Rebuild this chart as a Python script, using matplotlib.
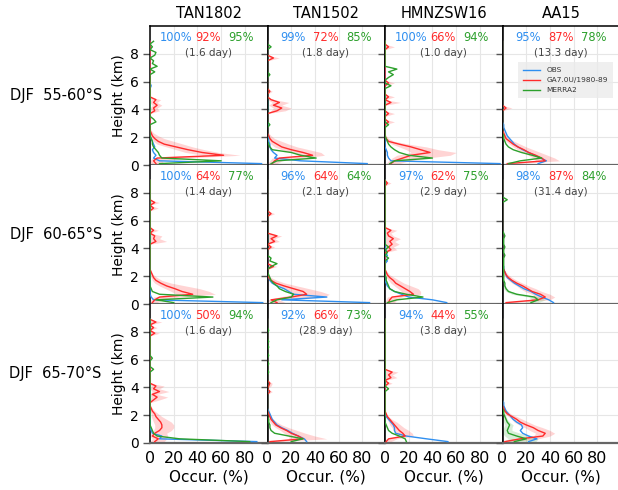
import numpy as np
import matplotlib
matplotlib.use("Agg")
import matplotlib.pyplot as plt

# vertical levels (km)
heights = np.round(np.arange(0.1, 9.0, 0.2), 2)  # 45 levels

stations = ["TAN1802", "TAN1502", "HMNZSW16", "AA15"]
row_labels = ["DJF  55-60°S", "DJF  60-65°S", "DJF  65-70°S"]
x_ticks = [0, 20, 40, 60, 80]
y_ticks = [0, 2, 4, 6, 8]
series_names = ["OBS", "GA7.0U/1980-89", "MERRA2"]

# percentages (OBS, GA7, MERRA2) and sample length per panel
pct_r0 = [(100, 92, 95), (99, 72, 85), (100, 66, 94), (95, 87, 78)]
pct_r1 = [(100, 64, 77), (96, 64, 64), (97, 62, 75), (98, 87, 84)]
pct_r2 = [(100, 50, 94), (92, 66, 73), (94, 44, 55), None]
days_r0 = ["1.6", "1.8", "1.0", "13.3"]
days_r1 = ["1.4", "2.1", "2.9", "31.4"]
days_r2 = ["1.6", "28.9", "3.8", None]

# ---------------- row 0 : 55-60S ----------------
obs_a = [94,8,3,5,3,2,4,3,2,1,0,0,0,0,0,
         0,0,0,0,0,0,0,0,0,0,0,0,0,1,0,
         0,0,0,0,0,0,0,0,0,0,0,0,0,0,0]
ga_a = [5,3,6,62,44,32,22,12,7,4,2,1,0,0,0,
        0,0,0,0,4,3,6,3,5,0,0,0,0,0,0,
        0,0,0,0,0,0,0,0,0,0,0,0,0,0,0]
galo_a = [1,0,2,45,30,22,14,6,3,1,0,0,0,0,0,
          0,0,0,0,1,0,2,0,1,0,0,0,0,0,0,
          0,0,0,0,0,0,0,0,0,0,0,0,0,0,0]
gahi_a = [12,10,30,76,58,46,36,28,20,12,7,3,1,0,0,
          0,0,0,0,8,6,10,6,9,0,0,0,0,0,0,
          0,0,0,0,0,0,0,0,0,0,0,0,0,0,0]
mer_a = [8,60,10,8,7,5,3,2,2,1,0,0,0,0,0,
         5,3,0,0,0,0,0,0,0,0,0,0,0,0,0,
         0,0,0,4,0,6,2,3,0,4,5,0,2,0,3]

obs_b = [84,28,6,8,5,3,2,2,1,1,1,0,0,0,1,
         0,0,0,0,0,0,0,0,0,0,0,0,0,0,0,
         0,0,0,0,0,0,0,0,0,0,0,0,0,0,0]
ga_b = [4,6,10,38,30,20,12,8,4,2,1,0,0,0,0,
        0,0,0,0,8,12,5,10,3,0,0,2,0,0,0,
        0,0,0,0,0,0,0,0,5,0,0,0,0,0,0]
galo_b = [0,2,4,28,20,12,6,3,1,0,0,0,0,0,0,
          0,0,0,0,3,5,1,4,0,0,0,0,0,0,0,
          0,0,0,0,0,0,0,0,2,0,0,0,0,0,0]
gahi_b = [8,12,30,48,45,35,25,18,12,6,3,1,0,0,0,
          0,0,0,0,15,20,12,18,6,0,0,4,0,0,0,
          0,0,0,0,0,0,0,0,10,0,0,0,0,0,0]
mer_b = [3,8,41,28,20,4,2,1,0,0,0,0,0,0,2,
         0,0,0,0,0,0,0,0,0,0,0,0,0,0,0,
         0,0,2,0,0,0,0,0,0,0,0,0,3,0,0]

obs_c = [97,5,3,2,2,1,0,0,0,0,0,0,0,0,0,
         0,0,0,0,0,0,0,0,0,0,0,0,0,0,0,
         0,0,0,0,0,0,0,0,0,0,0,0,0,0,0]
ga_c = [5,8,15,22,38,30,22,12,3,1,0,0,0,0,0,
        3,0,0,3,0,0,0,5,0,3,0,0,0,0,3,
        0,0,0,0,0,0,0,0,0,0,0,0,3,0,0]
galo_c = [1,3,6,10,22,18,12,6,1,0,0,0,0,0,0,
          0,0,0,0,0,0,0,0,0,0,0,0,0,0,0,
          0,0,0,0,0,0,0,0,0,0,0,0,0,0,0]
gahi_c = [12,20,35,55,60,45,35,20,8,3,1,0,0,0,0,
          8,0,0,8,0,0,0,13,0,8,0,0,0,0,8,
          0,0,0,0,0,0,0,0,0,0,0,0,8,0,0]
mer_c = [4,8,40,20,12,8,5,3,2,1,0,0,0,0,3,
         0,0,0,0,0,0,0,0,0,0,0,0,0,5,0,
         0,3,7,3,10,0,0,0,0,0,0,0,0,0,0]

obs_d = [30,37,32,27,22,17,13,10,8,6,4,3,2,1,1,
         0,0,0,0,0,0,0,0,0,0,0,0,0,0,0,
         0,0,0,0,0,0,0,0,0,0,0,0,0,0,0]
ga_d = [4,36,33,28,22,18,13,9,6,3,2,1,0,0,0,
        0,0,0,0,0,3,0,0,0,0,0,0,0,0,0,
        0,0,0,0,0,0,0,0,0,0,0,0,0,0,0]
galo_d = [0,28,26,22,17,13,9,6,3,1,0,0,0,0,0,
          0,0,0,0,0,0,0,0,0,0,0,0,0,0,0,
          0,0,0,0,0,0,0,0,0,0,0,0,0,0,0]
gahi_d = [10,48,44,38,32,26,20,15,10,6,3,2,1,0,0,
          0,0,0,0,0,8,0,0,0,0,0,0,0,0,0,
          0,0,0,0,0,0,0,0,0,0,0,0,0,0,0]
mer_d = [5,15,33,25,16,9,5,3,2,1,1,0,0,0,0,
         0,0,0,0,0,0,0,0,0,0,0,0,0,0,0,
         0,0,0,0,0,0,0,0,0,0,0,0,0,0,0]

# ---------------- row 1 : 60-65S ----------------
obs_e = [95,3,1,0,0,0,0,0,0,0,0,0,0,0,0,
         0,0,0,0,0,0,0,0,0,0,0,0,0,0,0,
         0,0,0,0,0,0,0,0,0,0,0,0,0,0,0]
ga_e = [2,4,8,36,27,21,14,9,5,3,2,1,0,0,0,
        0,0,0,0,0,0,0,5,3,4,0,3,0,0,0,
        0,0,0,0,3,0,4,0,0,0,0,0,0,0,0]
galo_e = [0,1,3,22,18,13,8,4,2,1,0,0,0,0,0,
          0,0,0,0,0,0,0,0,0,0,0,0,0,0,0,
          0,0,0,0,0,0,0,0,0,0,0,0,0,0,0]
gahi_e = [6,10,25,55,50,42,30,18,10,6,3,1,0,0,0,
          0,0,0,0,0,0,0,14,8,10,0,7,0,0,0,
          0,0,0,0,7,0,8,0,0,0,0,0,0,0,0]
mer_e = [20,5,53,8,2,1,0,0,0,0,0,0,0,0,0,
         0,0,0,0,0,0,0,0,0,0,0,0,0,0,0,
         0,0,0,0,0,0,0,0,0,0,0,0,0,0,0]

obs_f = [86,12,50,22,18,14,8,4,2,1,0,0,0,0,0,
         0,0,0,0,0,0,0,0,0,0,0,0,0,0,0,
         0,0,0,0,0,0,0,0,0,0,0,0,0,0,0]
ga_f = [8,3,20,33,30,22,14,7,3,1,0,0,0,5,0,
        0,0,0,0,0,3,0,6,3,8,0,0,0,0,0,
        0,0,3,0,0,0,0,0,0,0,0,0,0,0,0]
galo_f = [2,0,10,22,20,14,8,3,1,0,0,0,0,0,0,
          0,0,0,0,0,0,0,0,0,0,0,0,0,0,0,
          0,0,0,0,0,0,0,0,0,0,0,0,0,0,0]
gahi_f = [15,10,48,52,45,35,25,15,8,3,1,0,0,8,0,
          0,0,0,0,0,6,0,10,6,12,0,0,0,0,0,
          0,0,6,0,0,0,0,0,0,0,0,0,0,0,0]
mer_f = [3,8,20,22,15,10,8,5,3,2,1,0,0,3,8,
         2,3,0,0,0,0,0,0,0,0,0,0,0,0,0,
         0,0,0,0,0,0,0,0,0,0,0,0,0,0,0]

obs_g = [52,40,20,14,8,4,2,1,0,0,0,0,0,0,0,
         2,0,2,0,1,0,0,0,0,0,0,0,0,0,0,
         0,0,0,0,0,0,0,0,0,0,0,0,0,0,0]
ga_g = [3,4,6,24,21,17,13,9,7,4,2,1,0,0,0,
        0,0,0,0,5,3,6,4,7,3,2,5,0,0,0,
        0,0,0,0,0,0,0,0,0,0,0,0,0,2,0]
galo_g = [0,1,2,16,14,11,8,5,3,1,0,0,0,0,0,
          0,0,0,0,0,0,0,0,0,0,0,0,0,0,0,
          0,0,0,0,0,0,0,0,0,0,0,0,0,0,0]
gahi_g = [8,10,14,30,30,28,22,16,12,8,4,2,0,0,0,
          0,0,0,0,10,7,12,8,13,7,5,10,0,0,0,
          0,0,0,0,0,0,0,0,0,0,0,0,0,5,0]
mer_g = [2,10,32,18,8,4,3,2,1,1,0,0,0,0,0,
         0,3,0,2,0,3,0,0,0,0,0,0,0,0,0,
         0,0,0,0,0,0,0,0,0,0,0,0,0,0,0]

obs_h = [43,39,33,28,24,18,14,10,7,4,3,2,1,1,0,
         0,0,0,0,0,0,0,0,0,0,0,0,0,0,0,
         0,0,0,0,0,0,0,0,0,0,0,0,0,0,0]
ga_h = [3,30,36,32,25,21,17,12,8,5,3,2,1,0,0,
        0,0,0,0,0,0,0,0,0,0,0,0,0,0,0,
        0,0,0,0,0,0,0,0,0,0,0,0,0,0,0]
galo_h = [0,22,28,25,19,15,12,8,5,3,1,0,0,0,0,
          0,0,0,0,0,0,0,0,0,0,0,0,0,0,0,
          0,0,0,0,0,0,0,0,0,0,0,0,0,0,0]
gahi_h = [8,40,44,40,33,28,22,17,12,8,5,3,1,0,0,
          0,0,0,0,0,0,0,0,0,0,0,0,0,0,0,
          0,0,0,0,0,0,0,0,0,0,0,0,0,0,0]
mer_h = [24,30,27,12,5,3,2,2,1,1,1,1,1,1,1,
         1,1,2,1,1,2,1,1,1,2,1,0,0,0,0,
         0,0,0,0,0,0,0,4,0,0,0,0,0,0,0]
merlo_h = [18,25,22,8,3,1,0,0,0,0,0,0,0,0,0,
           0,0,0,0,0,0,0,0,0,0,0,0,0,0,0,
           0,0,0,0,0,0,0,0,0,0,0,0,0,0,0]
merhi_h = [30,36,32,16,7,4,2,0,0,0,0,0,0,0,0,
           0,0,0,0,0,0,0,0,0,0,0,0,0,0,0,
           0,0,0,0,0,0,0,0,0,0,0,0,0,0,0]

# ---------------- row 2 : 65-70S ----------------
obs_i = [90,8,10,2,1,0,0,0,0,0,0,0,0,0,0,
         0,0,0,0,0,0,0,0,0,0,0,0,0,0,0,
         0,0,0,0,0,0,0,0,0,0,0,0,0,0,0]
ga_i = [4,7,2,4,8,10,10,9,7,5,4,2,1,0,0,
        3,6,2,8,3,5,0,0,0,0,0,0,0,0,0,
        0,0,0,0,0,0,0,0,0,4,0,3,0,5,0]
galo_i = [0,2,0,1,3,4,4,3,2,1,1,0,0,0,0,
          0,1,0,2,0,1,0,0,0,0,0,0,0,0,0,
          0,0,0,0,0,0,0,0,0,0,0,0,0,0,0]
gahi_i = [12,14,15,14,18,20,20,18,14,10,7,4,2,0,0,
          8,15,6,16,8,12,0,0,0,0,0,0,0,0,0,
          0,0,0,0,0,0,0,0,0,8,0,6,0,10,0]
mer_i = [84,25,6,3,2,1,0,0,0,0,0,0,0,0,0,
         0,0,0,0,0,0,0,0,0,0,0,3,0,0,0,
         2,0,0,0,0,0,0,0,0,0,0,0,0,0,0]

obs_j = [33,31,26,21,17,12,8,6,4,3,2,1,0,0,0,
         0,0,0,1,0,0,0,0,0,0,0,0,0,0,0,
         0,0,0,0,0,0,0,0,0,0,0,0,0,0,0]
ga_j = [2,30,26,20,16,11,7,5,3,2,1,0,0,0,0,
        0,0,0,2,0,1,2,0,0,0,0,0,0,0,0,
        0,0,0,0,0,0,0,0,0,0,0,0,0,0,0]
galo_j = [0,18,18,14,11,7,4,2,1,0,0,0,0,0,0,
          0,0,0,0,0,0,0,0,0,0,0,0,0,0,0,
          0,0,0,0,0,0,0,0,0,0,0,0,0,0,0]
gahi_j = [8,50,40,32,25,18,12,8,5,3,2,1,0,0,0,
          0,0,0,4,0,3,4,0,0,0,0,0,0,0,0,
          0,0,0,0,0,0,0,0,0,0,0,0,0,0,0]
mer_j = [20,30,18,6,3,2,2,1,1,0,0,0,0,0,0,
         0,0,0,0,0,0,0,0,0,0,1,0,0,1,0,
         0,1,0,0,1,0,1,0,0,0,1,0,0,0,0]

obs_k = [53,35,18,9,8,8,7,5,3,1,0,0,0,0,0,
         0,0,0,0,0,0,0,0,0,0,0,0,0,0,0,
         0,0,0,0,0,0,0,0,0,0,0,0,0,0,0]
ga_k = [1,3,17,15,12,10,8,6,4,2,1,0,0,0,0,
        0,0,0,0,0,0,3,0,5,3,6,0,0,0,0,
        0,0,0,0,0,0,0,0,0,0,0,0,0,0,0]
galo_k = [0,1,10,9,7,6,4,3,2,1,0,0,0,0,0,
          0,0,0,0,0,0,0,0,0,0,0,0,0,0,0,
          0,0,0,0,0,0,0,0,0,0,0,0,0,0,0]
gahi_k = [5,10,24,23,20,16,13,10,6,3,1,0,0,0,0,
          0,0,0,0,0,0,6,0,10,6,11,0,0,0,0,
          0,0,0,0,0,0,0,0,0,0,0,0,0,0,0]
mer_k = [18,17,12,6,3,2,1,0,0,0,0,0,0,0,0,
         0,0,0,0,3,0,0,0,0,0,0,0,0,0,0,
         0,0,0,0,0,0,0,0,0,0,0,0,0,0,0]

obs_l = [22,29,22,17,15,17,16,12,9,7,5,3,2,1,1,
         0,0,0,0,0,0,0,0,0,0,0,0,0,0,0,
         0,0,0,0,0,0,0,0,0,0,0,0,0,0,0]
ga_l = [2,15,34,36,30,26,20,15,12,8,4,2,1,0,0,
        0,0,0,0,0,0,0,0,0,0,0,0,0,0,0,
        0,0,0,0,0,0,0,0,0,0,0,0,0,0,0]
galo_l = [0,8,26,28,23,19,14,10,8,5,2,1,0,0,0,
          0,0,0,0,0,0,0,0,0,0,0,0,0,0,0,
          0,0,0,0,0,0,0,0,0,0,0,0,0,0,0]
gahi_l = [8,30,40,44,40,34,27,22,17,12,7,4,2,0,0,
          0,0,0,0,0,0,0,0,0,0,0,0,0,0,0,
          0,0,0,0,0,0,0,0,0,0,0,0,0,0,0]
mer_l = [10,20,12,5,4,5,6,4,3,2,1,1,0,0,0,
         0,0,0,0,0,0,0,0,0,0,0,0,0,0,0,
         0,0,0,0,0,0,0,0,0,0,0,0,0,0,0]
merlo_l = [0,5,2,0,0,1,2,1,0,0,0,0,0,0,0,
           0,0,0,0,0,0,0,0,0,0,0,0,0,0,0,
           0,0,0,0,0,0,0,0,0,0,0,0,0,0,0]
merhi_l = [28,30,25,15,8,8,9,6,4,3,2,1,0,0,0,
           0,0,0,0,0,0,0,0,0,0,0,0,0,0,0,
           0,0,0,0,0,0,0,0,0,0,0,0,0,0,0]

panels = {
    (0, 0): (obs_a, ga_a, galo_a, gahi_a, mer_a, None, None),
    (0, 1): (obs_b, ga_b, galo_b, gahi_b, mer_b, None, None),
    (0, 2): (obs_c, ga_c, galo_c, gahi_c, mer_c, None, None),
    (0, 3): (obs_d, ga_d, galo_d, gahi_d, mer_d, None, None),
    (1, 0): (obs_e, ga_e, galo_e, gahi_e, mer_e, None, None),
    (1, 1): (obs_f, ga_f, galo_f, gahi_f, mer_f, None, None),
    (1, 2): (obs_g, ga_g, galo_g, gahi_g, mer_g, None, None),
    (1, 3): (obs_h, ga_h, galo_h, gahi_h, mer_h, merlo_h, merhi_h),
    (2, 0): (obs_i, ga_i, galo_i, gahi_i, mer_i, None, None),
    (2, 1): (obs_j, ga_j, galo_j, gahi_j, mer_j, None, None),
    (2, 2): (obs_k, ga_k, galo_k, gahi_k, mer_k, None, None),
    (2, 3): (obs_l, ga_l, galo_l, gahi_l, mer_l, merlo_l, merhi_l),
}
pcts = [pct_r0, pct_r1, pct_r2]
days = [days_r0, days_r1, days_r2]

c_obs = "#2f8ff0"
c_ga = "#ff2b2b"
c_mer = "#2ca02c"

W, H = 618, 490
fig = plt.figure(figsize=(W / 100, H / 100), dpi=100)

px_left0 = 150.0
px_w = 117.5
px_top0 = 26.0
px_h = 139.0

for r in range(3):
    for c in range(4):
        left = (px_left0 + px_w * c) / W
        bottom = 1 - (px_top0 + px_h * (r + 1)) / H
        ax = fig.add_axes([left, bottom, px_w / W, px_h / H])
        obs, ga, galo, gahi, mer, merlo, merhi = panels[(r, c)]
        ax.grid(True, color="#e6e6e6", lw=0.8, zorder=0)
        ax.set_axisbelow(True)
        ax.fill_betweenx(heights, galo, gahi, color=c_ga, alpha=0.2, lw=0, zorder=1)
        if merlo is not None:
            ax.fill_betweenx(heights, merlo, merhi, color=c_mer, alpha=0.18, lw=0, zorder=1)
        ax.plot(obs, heights, color=c_obs, lw=1.0, zorder=3, label=series_names[0])
        ax.plot(ga, heights, color=c_ga, lw=1.0, zorder=3, label=series_names[1])
        ax.plot(mer, heights, color=c_mer, lw=1.0, zorder=3, label=series_names[2])
        ax.set_xlim(0, 99)
        ax.set_ylim(0, 10)
        ax.set_xticks(x_ticks)
        ax.set_yticks(y_ticks)
        ax.tick_params(axis="y", direction="out", length=5, width=1, color="#555555",
                       labelsize=10, pad=3)
        ax.tick_params(axis="x", length=0, labelsize=11.5, pad=6)
        if c != 0:
            ax.set_yticklabels([])
        else:
            ax.set_ylabel("Height (km)", fontsize=10, labelpad=3)
            ax.text(-0.41, 0.5, row_labels[r], transform=ax.transAxes, ha="right",
                    va="center", fontsize=10.5)
        if r != 2:
            ax.set_xticklabels([])
        else:
            ax.set_xlabel("Occur. (%)", fontsize=11, labelpad=2)
        if r == 0:
            ax.set_title(stations[c], fontsize=10.5, pad=6)
        for side in ["left", "right", "top"]:
            ax.spines[side].set_color("black")
            ax.spines[side].set_linewidth(1.1)
        ax.spines["bottom"].set_color("#666666")
        ax.spines["bottom"].set_linewidth(1.6)
        if r != 0:
            ax.spines["top"].set_visible(False)
        p = pcts[r][c]
        if p is not None:
            for val, xf, col in zip(p, [0.22, 0.495, 0.775], [c_obs, c_ga, c_mer]):
                ax.text(xf, 0.917, f"{val}%", transform=ax.transAxes, ha="center",
                        va="center", fontsize=8.3, color=col)
            ax.text(0.497, 0.809, f"({days[r][c]} day)", transform=ax.transAxes,
                    ha="center", va="center", fontsize=7.5, color="#444444")
        if r == 0 and c == 3:
            leg = ax.legend(loc="upper left", bbox_to_anchor=(0.13, 0.74), fontsize=5.3,
                            frameon=True, fancybox=False, handlelength=2.3,
                            handletextpad=0.9, borderpad=0.7, labelspacing=0.5,
                            borderaxespad=0)
            leg.get_frame().set_facecolor("#ebebeb")
            leg.get_frame().set_edgecolor("none")
            for t in leg.get_texts():
                t.set_color("#333333")

fig.savefig("out.png", dpi=100)
